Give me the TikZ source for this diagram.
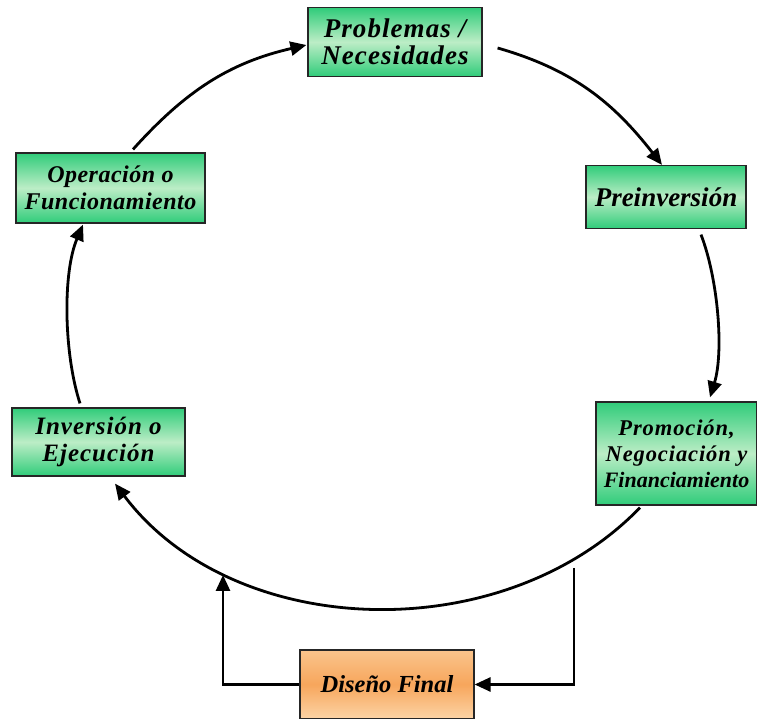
\documentclass[tikz,border=0pt]{standalone}
\usepackage{fontspec}
\setmainfont{Liberation Serif}
\usetikzlibrary{arrows.meta}
\definecolor{grEdge}{RGB}{48,204,122}
\definecolor{grMid}{RGB}{188,237,198}
\definecolor{orTop}{RGB}{250,196,140}
\definecolor{orMid}{RGB}{247,166,92}
\definecolor{orBot}{RGB}{252,212,166}
\tikzset{
  stagebox/.style={draw=black!85, line width=1.2pt, align=center, inner sep=0pt,
    top color=grEdge, bottom color=grEdge, middle color=grMid,
    font=\bfseries\itshape},
  finalbox/.style={stagebox, top color=orTop, bottom color=orBot, middle color=orMid},
  flow/.style={line width=2.8pt, -{Triangle[length=16pt,width=14pt]}},
}
\newcommand{\fs}[2]{\fontsize{#1}{#2}\selectfont}
\newcommand{\spaced}[1]{\addfontfeature{LetterSpace=#1}}
\begin{document}
\begin{tikzpicture}[x=1pt,y=1pt]
\useasboundingbox (0,0) rectangle (757,719);

% stages of the cycle
\node[stagebox, minimum width=174pt, minimum height=69pt, font=\bfseries\itshape\fs{27}{27}\spaced{4}]
  (prob) at (395,677) {Problemas /\\Necesidades};
\node[stagebox, minimum width=160pt, minimum height=63pt, font=\bfseries\itshape\fs{27}{27}]
  (pre) at (666,522) {Preinversión};
\node[stagebox, minimum width=161pt, minimum height=103pt, font=\bfseries\itshape\fs{22.5}{26}]
  (prom) at (676.5,265.5) {{\spaced{4}Promoción,}\\{\spaced{4}Negociación y}\\{\fontsize{22}{26}\selectfont Financiamiento}};
\node[stagebox, minimum width=173pt, minimum height=68pt, font=\bfseries\itshape\fs{25}{27}\spaced{4}]
  (inv) at (98.5,277) {Inversión o\\Ejecución};
\node[stagebox, minimum width=189pt, minimum height=70pt, font=\bfseries\itshape\fs{24}{26.5}\spaced{2}]
  (op) at (110.5,531) {Operación o\\Funcionamiento};
\node[finalbox, minimum width=174pt, minimum height=69pt, font=\bfseries\itshape\fs{24.5}{27}]
  (dis) at (387,34.5) {Diseño Final};

% the cycle
\draw[flow] ([xshift=15pt,yshift=-6pt]prob.east) to[out=-16,in=128]
  ([xshift=-4pt]pre.north);
\draw[flow] ([xshift=35pt,yshift=-5.5pt]pre.south) to[out=-69,in=73,looseness=0.75]
  ([xshift=33.5pt,yshift=4pt]prom.north);
\draw[flow] ([xshift=-36.5pt,yshift=-2pt]prom.south) to[out=-134,in=-53,looseness=0.96]
  ([xshift=16.5pt,yshift=-7pt]inv.south);
\draw[flow] ([xshift=-18.5pt,yshift=4pt]inv.north) to[out=108,in=247,looseness=0.75]
  ([xshift=-27.5pt,yshift=-1pt]op.south);
\draw[flow] ([xshift=22.5pt,yshift=3pt]op.north) to[out=48,in=193]
  ([xshift=-1pt,yshift=-3pt]prob.west);

% detour through the final design
\coordinate (feedin) at (574,151);
\coordinate (feedout) at (223,144);
\draw[flow] (feedin) |- (dis.east);
\draw[flow] (dis.west) -| (feedout);
\end{tikzpicture}
\end{document}
